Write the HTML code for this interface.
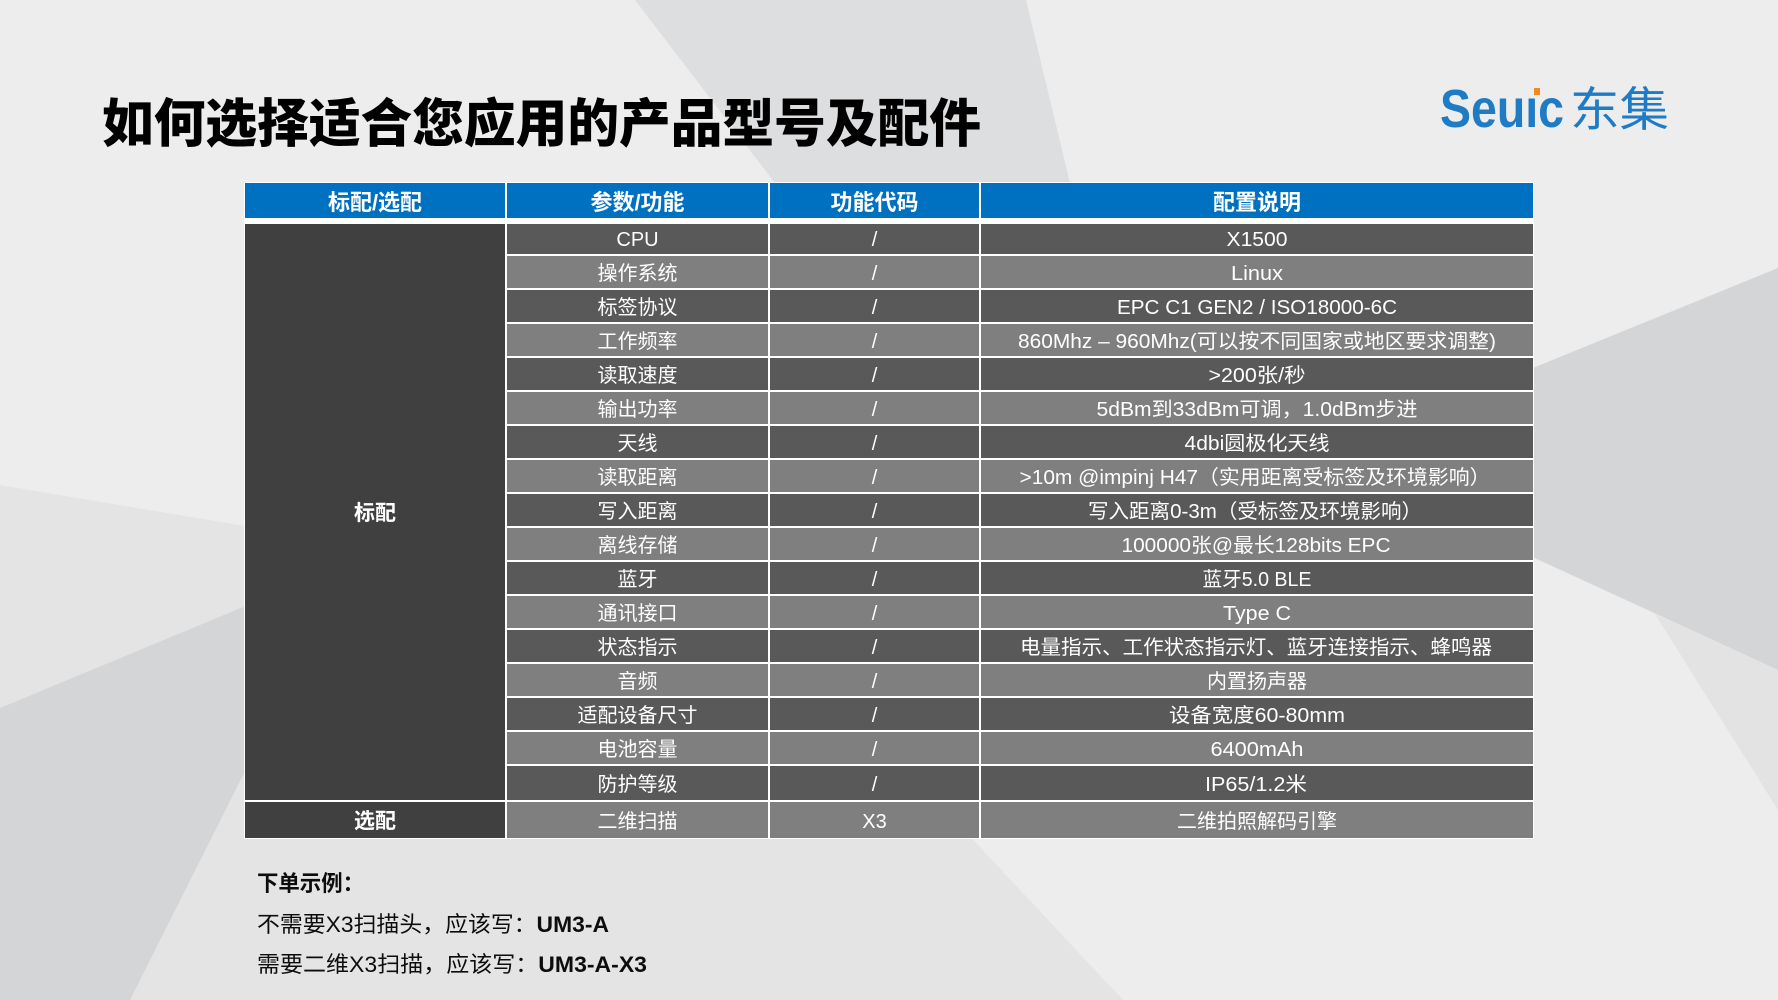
<!DOCTYPE html>
<html>
<head>
<meta charset="utf-8">
<style>
html,body{margin:0;padding:0;background:#ededed;}
body{width:1778px;height:1000px;overflow:hidden;}
svg{display:block;}
.c{font-family:"Liberation Sans","Noto Sans CJK SC",sans-serif;font-size:20px;fill:#ffffff;text-anchor:middle;}
.h{font-family:"Liberation Sans","Noto Sans CJK SC",sans-serif;font-size:22px;font-weight:bold;fill:#ffffff;text-anchor:middle;}
.b{font-family:"Liberation Sans","Noto Sans CJK SC",sans-serif;font-size:22px;fill:#0d0d0d;}
</style>
</head>
<body>
<svg width="1778" height="1000" viewBox="0 0 1778 1000" xmlns="http://www.w3.org/2000/svg">
  <!-- background -->
  <rect x="0" y="0" width="1778" height="1000" fill="#ededed"/>
  <polygon points="635,0 1026,0 1070,183 775,183" fill="#dddee0"/>
  <polygon points="0,485 760,612 1123,1000 0,1000" fill="#e4e4e4"/>
  <polygon points="0,708 301,583 301,660 130,1000 0,1000" fill="#d4d5d7"/>
  <polygon points="1315,457 1778,268 1778,670" fill="#d4d5d7"/>
  <polygon points="1655,614 1778,670 1778,810" fill="#e3e3e3"/>

  <!-- title -->
  <text x="102" y="142" font-family="'Liberation Sans','Noto Sans CJK SC',sans-serif" font-size="52" font-weight="900" fill="#000" textLength="879" lengthAdjust="spacingAndGlyphs">如何选择适合您应用的产品型号及配件</text>

  <!-- logo -->
  <text x="1440" y="127" font-family="'Liberation Sans',sans-serif" font-size="54" font-weight="bold" fill="#1f7bc4" textLength="124" lengthAdjust="spacingAndGlyphs">Seuıc</text>
  <rect x="1534" y="88" width="6" height="7" fill="#ef8a1e"/>
  <text x="1570" y="126" font-family="'Noto Sans CJK SC',sans-serif" font-size="47" fill="#1f7bc4" textLength="99" lengthAdjust="spacingAndGlyphs">东集</text>

  <!-- table base -->
  <rect x="244" y="182" width="1290" height="657" fill="#ffffff"/>

  <!-- header -->
  <rect x="245" y="183" width="260" height="35" fill="#0070c0"/>
  <rect x="507" y="183" width="261" height="35" fill="#0070c0"/>
  <rect x="770" y="183" width="209" height="35" fill="#0070c0"/>
  <rect x="981" y="183" width="552" height="35" fill="#0070c0"/>
  <text class="h" x="375" y="210">标配/选配</text>
  <text class="h" x="637.5" y="210">参数/功能</text>
  <text class="h" x="874.5" y="210">功能代码</text>
  <text class="h" x="1257" y="210">配置说明</text>

  <!-- col1 merged -->
  <rect x="245" y="224" width="260" height="576" fill="#404040"/>
  <rect x="245" y="802" width="260" height="36" fill="#404040"/>
  <text class="h" x="375" y="520" style="font-size:21px">标配</text>
  <text class="h" x="375" y="828" style="font-size:21px">选配</text>

  <!-- row backgrounds -->
  <g>
    <rect x="507" y="224" width="261" height="30" fill="#595959"/><rect x="770" y="224" width="209" height="30" fill="#595959"/><rect x="981" y="224" width="552" height="30" fill="#595959"/>
    <rect x="507" y="256" width="261" height="32" fill="#7f7f7f"/><rect x="770" y="256" width="209" height="32" fill="#7f7f7f"/><rect x="981" y="256" width="552" height="32" fill="#7f7f7f"/>
    <rect x="507" y="290" width="261" height="32" fill="#595959"/><rect x="770" y="290" width="209" height="32" fill="#595959"/><rect x="981" y="290" width="552" height="32" fill="#595959"/>
    <rect x="507" y="324" width="261" height="32" fill="#7f7f7f"/><rect x="770" y="324" width="209" height="32" fill="#7f7f7f"/><rect x="981" y="324" width="552" height="32" fill="#7f7f7f"/>
    <rect x="507" y="358" width="261" height="32" fill="#595959"/><rect x="770" y="358" width="209" height="32" fill="#595959"/><rect x="981" y="358" width="552" height="32" fill="#595959"/>
    <rect x="507" y="392" width="261" height="32" fill="#7f7f7f"/><rect x="770" y="392" width="209" height="32" fill="#7f7f7f"/><rect x="981" y="392" width="552" height="32" fill="#7f7f7f"/>
    <rect x="507" y="426" width="261" height="32" fill="#595959"/><rect x="770" y="426" width="209" height="32" fill="#595959"/><rect x="981" y="426" width="552" height="32" fill="#595959"/>
    <rect x="507" y="460" width="261" height="32" fill="#7f7f7f"/><rect x="770" y="460" width="209" height="32" fill="#7f7f7f"/><rect x="981" y="460" width="552" height="32" fill="#7f7f7f"/>
    <rect x="507" y="494" width="261" height="32" fill="#595959"/><rect x="770" y="494" width="209" height="32" fill="#595959"/><rect x="981" y="494" width="552" height="32" fill="#595959"/>
    <rect x="507" y="528" width="261" height="32" fill="#7f7f7f"/><rect x="770" y="528" width="209" height="32" fill="#7f7f7f"/><rect x="981" y="528" width="552" height="32" fill="#7f7f7f"/>
    <rect x="507" y="562" width="261" height="32" fill="#595959"/><rect x="770" y="562" width="209" height="32" fill="#595959"/><rect x="981" y="562" width="552" height="32" fill="#595959"/>
    <rect x="507" y="596" width="261" height="32" fill="#7f7f7f"/><rect x="770" y="596" width="209" height="32" fill="#7f7f7f"/><rect x="981" y="596" width="552" height="32" fill="#7f7f7f"/>
    <rect x="507" y="630" width="261" height="32" fill="#595959"/><rect x="770" y="630" width="209" height="32" fill="#595959"/><rect x="981" y="630" width="552" height="32" fill="#595959"/>
    <rect x="507" y="664" width="261" height="32" fill="#7f7f7f"/><rect x="770" y="664" width="209" height="32" fill="#7f7f7f"/><rect x="981" y="664" width="552" height="32" fill="#7f7f7f"/>
    <rect x="507" y="698" width="261" height="32" fill="#595959"/><rect x="770" y="698" width="209" height="32" fill="#595959"/><rect x="981" y="698" width="552" height="32" fill="#595959"/>
    <rect x="507" y="732" width="261" height="32" fill="#7f7f7f"/><rect x="770" y="732" width="209" height="32" fill="#7f7f7f"/><rect x="981" y="732" width="552" height="32" fill="#7f7f7f"/>
    <rect x="507" y="766" width="261" height="34" fill="#595959"/><rect x="770" y="766" width="209" height="34" fill="#595959"/><rect x="981" y="766" width="552" height="34" fill="#595959"/>
    <rect x="507" y="802" width="261" height="36" fill="#7f7f7f"/><rect x="770" y="802" width="209" height="36" fill="#7f7f7f"/><rect x="981" y="802" width="552" height="36" fill="#7f7f7f"/>
  </g>

  <!-- col2 text -->
  <text class="c" x="637.5" y="246">CPU</text>
  <text class="c" x="637.5" y="280">操作系统</text>
  <text class="c" x="637.5" y="314">标签协议</text>
  <text class="c" x="637.5" y="348">工作频率</text>
  <text class="c" x="637.5" y="382">读取速度</text>
  <text class="c" x="637.5" y="416">输出功率</text>
  <text class="c" x="637.5" y="450">天线</text>
  <text class="c" x="637.5" y="484">读取距离</text>
  <text class="c" x="637.5" y="518">写入距离</text>
  <text class="c" x="637.5" y="552">离线存储</text>
  <text class="c" x="637.5" y="586">蓝牙</text>
  <text class="c" x="637.5" y="620">通讯接口</text>
  <text class="c" x="637.5" y="654">状态指示</text>
  <text class="c" x="637.5" y="688">音频</text>
  <text class="c" x="637.5" y="722">适配设备尺寸</text>
  <text class="c" x="637.5" y="756">电池容量</text>
  <text class="c" x="637.5" y="791">防护等级</text>
  <text class="c" x="637.5" y="828">二维扫描</text>

  <!-- col3 text -->
  <text class="c" x="874.5" y="246">/</text>
  <text class="c" x="874.5" y="280">/</text>
  <text class="c" x="874.5" y="314">/</text>
  <text class="c" x="874.5" y="348">/</text>
  <text class="c" x="874.5" y="382">/</text>
  <text class="c" x="874.5" y="416">/</text>
  <text class="c" x="874.5" y="450">/</text>
  <text class="c" x="874.5" y="484">/</text>
  <text class="c" x="874.5" y="518">/</text>
  <text class="c" x="874.5" y="552">/</text>
  <text class="c" x="874.5" y="586">/</text>
  <text class="c" x="874.5" y="620">/</text>
  <text class="c" x="874.5" y="654">/</text>
  <text class="c" x="874.5" y="688">/</text>
  <text class="c" x="874.5" y="722">/</text>
  <text class="c" x="874.5" y="756">/</text>
  <text class="c" x="874.5" y="791">/</text>
  <text class="c" x="874.5" y="828">X3</text>

  <!-- col4 text -->
  <text class="c" x="1257" y="246" textLength="61" lengthAdjust="spacingAndGlyphs">X1500</text>
  <text class="c" x="1257" y="280" textLength="52" lengthAdjust="spacingAndGlyphs">Linux</text>
  <text class="c" x="1257" y="314" textLength="280" lengthAdjust="spacingAndGlyphs">EPC C1 GEN2 / ISO18000-6C</text>
  <text class="c" x="1257" y="348" textLength="478" lengthAdjust="spacingAndGlyphs">860Mhz – 960Mhz(可以按不同国家或地区要求调整)</text>
  <text class="c" x="1257" y="382" textLength="97" lengthAdjust="spacingAndGlyphs">&gt;200张/秒</text>
  <text class="c" x="1257" y="416" textLength="321" lengthAdjust="spacingAndGlyphs">5dBm到33dBm可调，1.0dBm步进</text>
  <text class="c" x="1257" y="450" textLength="145" lengthAdjust="spacingAndGlyphs">4dbi圆极化天线</text>
  <text class="c" x="1255" y="484" textLength="471" lengthAdjust="spacingAndGlyphs">&gt;10m @impinj H47（实用距离受标签及环境影响）</text>
  <text class="c" x="1255" y="518" textLength="334" lengthAdjust="spacingAndGlyphs">写入距离0-3m（受标签及环境影响）</text>
  <text class="c" x="1256" y="552" textLength="269" lengthAdjust="spacingAndGlyphs">100000张@最长128bits EPC</text>
  <text class="c" x="1257" y="586" textLength="109" lengthAdjust="spacingAndGlyphs">蓝牙5.0 BLE</text>
  <text class="c" x="1257" y="620" textLength="68" lengthAdjust="spacingAndGlyphs">Type C</text>
  <text class="c" x="1256" y="654" textLength="472" lengthAdjust="spacingAndGlyphs">电量指示、工作状态指示灯、蓝牙连接指示、蜂鸣器</text>
  <text class="c" x="1257" y="688">内置扬声器</text>
  <text class="c" x="1257" y="722" textLength="176" lengthAdjust="spacingAndGlyphs">设备宽度60-80mm</text>
  <text class="c" x="1257" y="756" textLength="93" lengthAdjust="spacingAndGlyphs">6400mAh</text>
  <text class="c" x="1256" y="791" textLength="102" lengthAdjust="spacingAndGlyphs">IP65/1.2米</text>
  <text class="c" x="1257" y="828">二维拍照解码引擎</text>

  <!-- bottom notes -->
  <text class="b" x="257" y="891" font-weight="bold" textLength="107" lengthAdjust="spacingAndGlyphs">下单示例：</text>
  <text class="b" x="257" y="932" textLength="352" lengthAdjust="spacingAndGlyphs">不需要X3扫描头，应该写：<tspan font-weight="bold">UM3-A</tspan></text>
  <text class="b" x="257" y="972" textLength="390" lengthAdjust="spacingAndGlyphs">需要二维X3扫描，应该写：<tspan font-weight="bold">UM3-A-X3</tspan></text>
</svg>
</body>
</html>
